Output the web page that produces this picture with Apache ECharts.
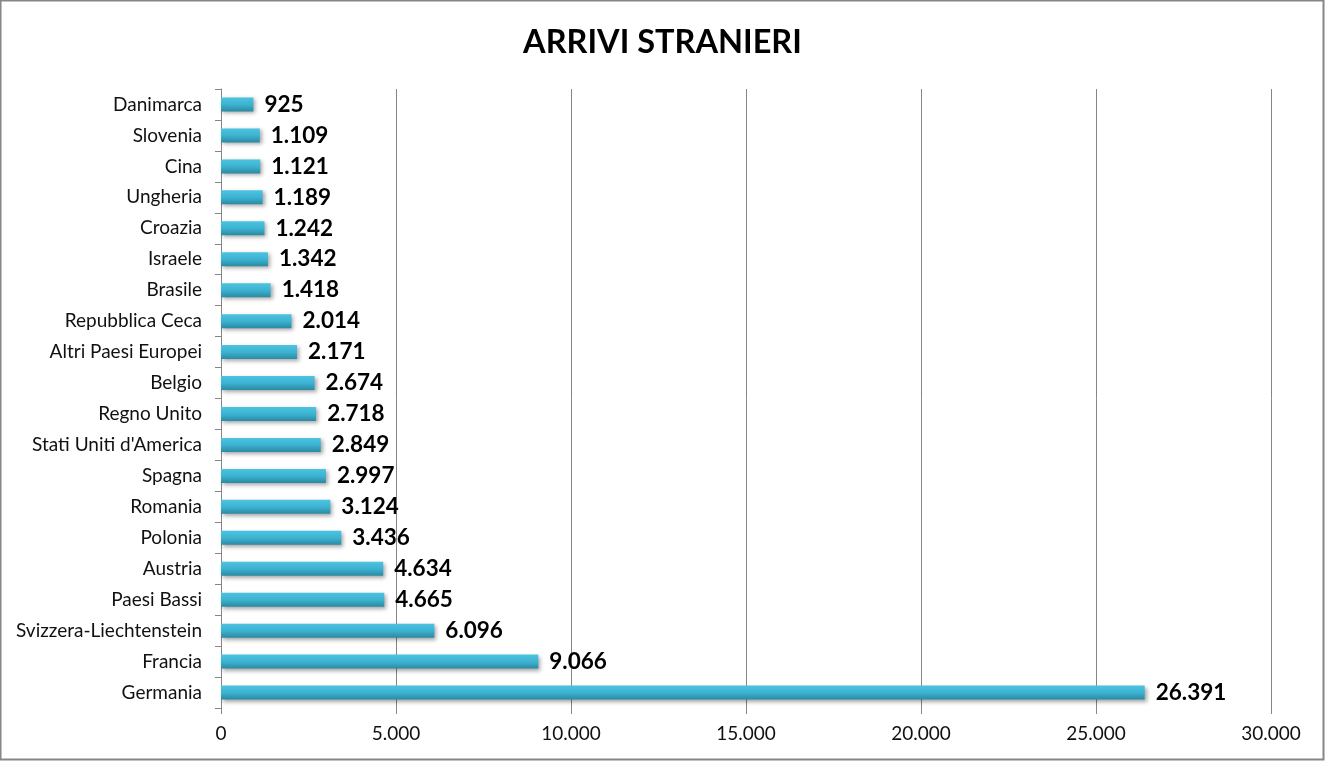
<!DOCTYPE html>
<html><head><meta charset="utf-8">
<script src="https://cdn.jsdelivr.net/npm/echarts@6/dist/echarts.min.js"></script>
<style>html,body{margin:0;padding:0;background:#fff}#c{width:1325px;height:761px}</style>
</head><body><div id="c"></div>
<script>
const categories = ["Germania","Francia","Svizzera-Liechtenstein","Paesi Bassi","Austria","Polonia","Romania","Spagna","Stati Uniti d'America","Regno Unito","Belgio","Altri Paesi Europei","Repubblica Ceca","Brasile","Israele","Croazia","Ungheria","Cina","Slovenia","Danimarca"];
const values = [26391,9066,6096,4665,4634,3436,3124,2997,2849,2718,2674,2171,2014,1418,1342,1242,1189,1121,1109,925];
const xTicks = [0,5000,10000,15000,20000,25000,30000];
const title = "ARRIVI STRANIERI";

const fmt = v => String(v).replace(/\B(?=(\d{3})+(?!\d))/g, '.');
const chart = echarts.init(document.getElementById('c'));
chart.setOption({
  backgroundColor: '#fff',
  animation: false,
  graphic: [{type:'rect', shape:{x:0.5,y:0.5,width:1323,height:759}, style:{fill:'none',stroke:'#868686',lineWidth:2}}],
  title: {text: title, left: 'center', top: 21, textStyle:{fontFamily:'Lato', fontWeight:'bold', fontSize:32.5, color:'#000'}},
  grid: {left:221, right:54, top:89, bottom:53},
  xAxis: {type:'value', min:xTicks[0], max:xTicks[xTicks.length-1], interval:xTicks[1]-xTicks[0],
    axisLine:{show:false},
    axisTick:{show:true, length:6, lineStyle:{color:'#868686'}},
    splitLine:{show:true, lineStyle:{color:'#868686', width:1}},
    axisLabel:{fontFamily:'Lato', fontSize:19, color:'#111', margin:16, formatter: v => fmt(v)}},
  yAxis: {type:'category', data: categories,
    axisLine:{show:true, lineStyle:{color:'#868686', width:1}},
    axisTick:{show:true, length:6, lineStyle:{color:'#868686'}},
    axisLabel:{fontFamily:'Lato', fontSize:19, color:'#111', margin:19}},
  series: [{type:'bar', data: values, barWidth:14,
    itemStyle:{color: new echarts.graphic.LinearGradient(0,0,0,1,[{offset:0,color:'#4cc3e0'},{offset:0.5,color:'#3db3d2'},{offset:1,color:'#2a8aa3'}]),
      shadowColor:'rgba(0,0,0,0.35)', shadowBlur:4, shadowOffsetX:2, shadowOffsetY:2},
    label:{show:true, position:'right', distance:11, fontFamily:'Lato', fontWeight:'bold', fontSize:22.5, color:'#000', formatter: p => fmt(p.value)}}]
});
</script></body></html>
